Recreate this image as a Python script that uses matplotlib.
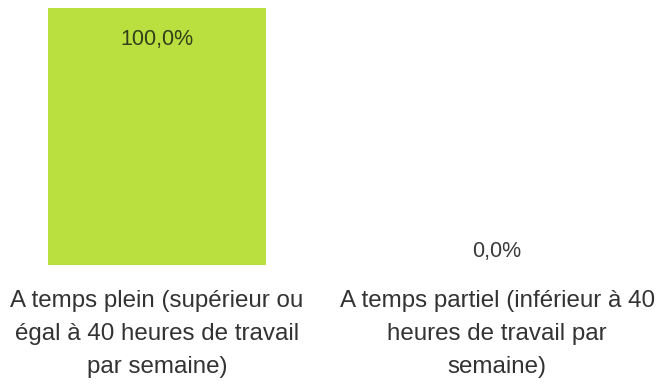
import matplotlib
matplotlib.use('Agg')
import matplotlib.pyplot as plt

categories = [
    "A temps plein (supérieur ou\négal à 40 heures de travail\npar semaine)",
    "A temps partiel (inférieur à 40\nheures de travail par\nsemaine)",
]
values = [100.0, 0.0]
value_labels = ["100,0%", "0,0%"]

plt.rcParams['font.family'] = ['Liberation Sans', 'DejaVu Sans']

W, H = 659, 390
fig = plt.figure(figsize=(W / 100, H / 100), dpi=100)
# axes span the full width; bar band 0..100 sits between y=8px and y=265px
ax = fig.add_axes([0, (H - 265) / H, 1, (265 - 8) / H])
ax.set_xlim(-157 / 340, (W - 157) / 340)
ax.set_ylim(0, 100)

x = list(range(len(categories)))
ax.bar(x, values, width=218 / 340, color='#b9e03f', edgecolor='none')

for xi, v, lab in zip(x, values, value_labels):
    if v > 10:
        ax.annotate(lab, (xi, v), xytext=(0, -31), textcoords='offset pixels',
                    ha='center', va='center', fontsize=15.5, color='#33401a')
    else:
        ax.annotate(lab, (xi, v), xytext=(0, 13), textcoords='offset pixels',
                    ha='center', va='center', fontsize=15.5, color='#3a3a3a')

for xi, cat in zip(x, categories):
    ax.annotate(cat, (xi, 0), xytext=(0, -25), textcoords='offset pixels',
                ha='center', va='top', fontsize=17.4, color='#333333',
                linespacing=1.64)

ax.axis('off')
fig.savefig('out.png', dpi=100, facecolor='white')
